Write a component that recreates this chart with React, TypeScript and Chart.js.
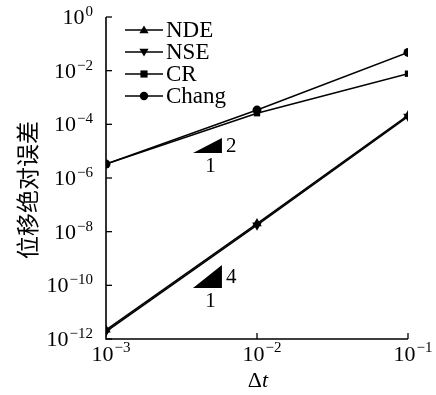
import React, { useEffect, useRef } from "react";
import { Chart, registerables } from "chart.js";

Chart.register(...registerables);

const dtValues = [1e-3, 1e-2, 1e-1];
const ndeErrors = [2.2e-12, 2.0e-8, 2.15e-4];
const nseErrors = [1.9e-12, 1.75e-8, 1.95e-4];
const crErrors = [3.3e-6, 2.6e-4, 7.7e-3];
const changErrors = [3.3e-6, 3.4e-4, 4.8e-2];

const seriesNames = ["NDE", "NSE", "CR", "Chang"];
const yTickValues = [1, 1e-2, 1e-4, 1e-6, 1e-8, 1e-10, 1e-12];
const yTickExponents = ["0", "\u22122", "\u22124", "\u22126", "\u22128", "\u221210", "\u221212"];
const xTickValues = [1e-3, 1e-2, 1e-1];
const xTickExponents = ["\u22123", "\u22122", "\u22121"];

// slope triangles: [x0, x1, yBase, yTop], rise label, run label
const slopeTriangles = [
  { x0: 3.77e-3, x1: 5.86e-3, yBase: 8.5e-6, yTop: 3.1e-5, rise: "2", run: "1" },
  { x0: 3.77e-3, x1: 5.86e-3, yBase: 7.9e-11, yTop: 5.7e-10, rise: "4", run: "1" },
];

const yTitle = "位移绝对误差";
const SERIF = "'Liberation Serif', 'DejaVu Serif', serif";

function drawMarker(ctx: CanvasRenderingContext2D, style: string, x: number, y: number, r: number) {
  ctx.beginPath();
  if (style === "circle") {
    ctx.arc(x, y, r, 0, Math.PI * 2);
  } else if (style === "rect") {
    ctx.rect(x - r * 0.85, y - r * 0.85, r * 1.7, r * 1.7);
  } else if (style === "triUp") {
    ctx.moveTo(x, y - r * 1.1);
    ctx.lineTo(x + r * 1.1, y + r * 0.75);
    ctx.lineTo(x - r * 1.1, y + r * 0.75);
    ctx.closePath();
  } else {
    ctx.moveTo(x, y + r * 1.1);
    ctx.lineTo(x + r * 1.1, y - r * 0.75);
    ctx.lineTo(x - r * 1.1, y - r * 0.75);
    ctx.closePath();
  }
  ctx.fill();
}

const decorPlugin = {
  id: "decor",
  afterDraw(chart: any) {
    const ctx: CanvasRenderingContext2D = chart.ctx;
    const { left, right, top, bottom } = chart.chartArea;
    const xs = chart.scales.x;
    const ys = chart.scales.y;
    ctx.save();
    ctx.strokeStyle = "#000";
    ctx.fillStyle = "#000";
    ctx.lineWidth = 1.6;
    // axes
    ctx.beginPath();
    ctx.moveTo(left, top);
    ctx.lineTo(left, bottom);
    ctx.lineTo(right, bottom);
    ctx.stroke();
    // y ticks
    ctx.lineWidth = 1.3;
    yTickValues.forEach((v, i) => {
      const py = ys.getPixelForValue(v);
      ctx.beginPath();
      ctx.moveTo(left, py);
      ctx.lineTo(left + 6, py);
      ctx.stroke();
      ctx.textBaseline = "alphabetic";
      ctx.textAlign = "left";
      ctx.font = `15px ${SERIF}`;
      const ew = ctx.measureText(yTickExponents[i]).width;
      ctx.font = `22px ${SERIF}`;
      const bw = ctx.measureText("10").width;
      const endX = left - 13;
      ctx.fillText("10", endX - ew - bw - 1, py + 7);
      ctx.font = `15px ${SERIF}`;
      ctx.fillText(yTickExponents[i], endX - ew, py - 1);
    });
    // x ticks
    xTickValues.forEach((v, i) => {
      const px = xs.getPixelForValue(v);
      if (i > 0) {
        ctx.beginPath();
        ctx.moveTo(px, bottom);
        ctx.lineTo(px, bottom - 6);
        ctx.stroke();
      }
      const startX = px - 14.5;
      ctx.font = `22px ${SERIF}`;
      ctx.textAlign = "left";
      const bw = ctx.measureText("10").width;
      ctx.fillText("10", startX, bottom + 22);
      ctx.font = `15px ${SERIF}`;
      ctx.fillText(xTickExponents[i], startX + bw + 1, bottom + 13);
    });
    // x title
    ctx.font = `22px ${SERIF}`;
    const dW = ctx.measureText("\u0394").width;
    ctx.font = `italic 22px ${SERIF}`;
    const tW = ctx.measureText("t").width;
    const cx = (left + right) / 2 + 1;
    const sx = cx - (dW + tW) / 2;
    ctx.font = `22px ${SERIF}`;
    ctx.fillText("\u0394", sx, 387);
    ctx.font = `italic 22px ${SERIF}`;
    ctx.fillText("t", sx + dW, 387);
    // y title
    ctx.save();
    ctx.translate(27, 190);
    ctx.rotate(-Math.PI / 2);
    ctx.font = `23px 'Noto Sans CJK SC', sans-serif`;
    ctx.textAlign = "center";
    ctx.textBaseline = "middle";
    ctx.fillText(yTitle, 0, 0);
    ctx.restore();
    // slope triangles
    slopeTriangles.forEach((t) => {
      const x0 = xs.getPixelForValue(t.x0);
      const x1 = xs.getPixelForValue(t.x1);
      const yb = ys.getPixelForValue(t.yBase);
      const yt = ys.getPixelForValue(t.yTop);
      ctx.beginPath();
      ctx.moveTo(x0, yb);
      ctx.lineTo(x1, yb);
      ctx.lineTo(x1, yt);
      ctx.closePath();
      ctx.fill();
      ctx.font = `21px ${SERIF}`;
      ctx.textAlign = "left";
      ctx.textBaseline = "middle";
      ctx.fillText(t.rise, x1 + 4, (yb + yt) / 2 + 1);
      ctx.textAlign = "center";
      ctx.textBaseline = "top";
      ctx.fillText(t.run, (x0 + x1) / 2 + 3, yb + 3);
    });
    // legend
    const styles = ["triUp", "triDown", "rect", "circle"];
    seriesNames.forEach((name, i) => {
      const ry = 30 + i * 22;
      ctx.lineWidth = 1.5;
      ctx.beginPath();
      ctx.moveTo(125, ry);
      ctx.lineTo(163, ry);
      ctx.stroke();
      drawMarker(ctx, styles[i], 144, ry, 4.2);
      ctx.font = `23px ${SERIF}`;
      ctx.textAlign = "left";
      ctx.textBaseline = "middle";
      ctx.fillText(name, 166, ry + 1);
    });
    ctx.restore();
  },
};

function toPoints(vals: number[]) {
  return dtValues.map((x, i) => ({ x, y: vals[i] }));
}

export default function App() {
  const ref = useRef<HTMLCanvasElement | null>(null);
  useEffect(() => {
    document.body.style.margin = "0";
    if (!ref.current) return;
    const common = {
      borderColor: "#000",
      backgroundColor: "#000",
      pointBackgroundColor: "#000",
      pointBorderColor: "#000",
      borderWidth: 1.5,
      pointBorderWidth: 0,
      fill: false,
      tension: 0,
    };
    const chart = new Chart(ref.current, {
      type: "line",
      data: {
        datasets: [
          { ...common, label: seriesNames[0], data: toPoints(ndeErrors), pointStyle: "triangle", pointRadius: 5.5 },
          { ...common, label: seriesNames[1], data: toPoints(nseErrors), pointStyle: "triangle", rotation: 180, pointRadius: 5.5 },
          { ...common, label: seriesNames[2], data: toPoints(crErrors), pointStyle: "rect", pointRadius: 4.5 },
          { ...common, label: seriesNames[3], data: toPoints(changErrors), pointStyle: "circle", pointRadius: 4.5 },
        ] as any,
      },
      options: {
        animation: false,
        responsive: false,
        devicePixelRatio: 1,
        layout: { padding: { top: 17, right: 28, left: 0, bottom: 0 } },
        plugins: { legend: { display: false }, tooltip: { enabled: false } },
        scales: {
          x: {
            type: "logarithmic",
            min: 1e-3,
            max: 1e-1,
            grid: { display: false, drawTicks: false },
            border: { display: false },
            ticks: { display: false },
            afterFit: (s: any) => { s.height = 56; },
          },
          y: {
            type: "logarithmic",
            min: 1e-12,
            max: 1,
            grid: { display: false, drawTicks: false },
            border: { display: false },
            ticks: { display: false },
            afterFit: (s: any) => { s.width = 106; },
          },
        },
      } as any,
      plugins: [decorPlugin],
    });
    return () => chart.destroy();
  }, []);
  return (
    <div style={{ width: 436, height: 395 }}>
      <canvas ref={ref} width={436} height={395} />
    </div>
  );
}
